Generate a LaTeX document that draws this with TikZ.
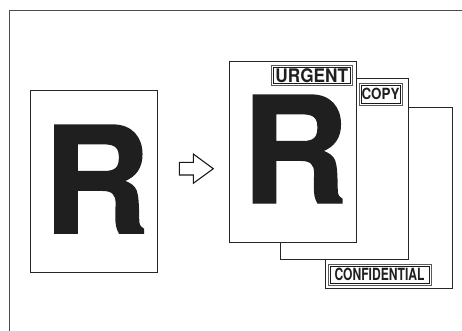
\documentclass[tikz,border=0pt]{standalone}
\usepackage{fontspec}
\newfontfamily\helv{TeX Gyre Heros}
\newfontfamily\helvheavy{TeX Gyre Heros}[FakeBold=1]
\usepackage{tikz}
\usetikzlibrary{positioning, calc}

\begin{document}
\begin{tikzpicture}[
    x=1pt, y=-1pt,
    frameline/.style={draw=black!70, line width=1.1pt},
    page/.style={draw=black!85, fill=white, line width=0.8pt},
    bigletter/.style={inner sep=0pt, anchor=base, text=black!88,
                      font=\helvheavy\bfseries\fontsize{148}{148}\selectfont},
    stampouter/.style={draw=black!65, line width=0.6pt, fill=white},
    stampinner/.style={draw=black!90, line width=0.9pt},
    stamptext/.style={inner sep=0pt, text=black!88, font=\helv\bfseries},
    blockarrow/.style={draw=black!90, line width=1.1pt, line join=miter, fill=white}
]
\useasboundingbox (0,0) rectangle (462,330);
% outer frame (only top and left edges show)
\draw[frameline] (9.5,335) -- (9.5,10.5) -- (470,10.5);

% original
\draw[page] (30,90.5) rectangle (157.5,272.5);
\node[bigletter] (origR) at (96.5,233) {R};

% arrow
\draw[blockarrow] (179.3,162.3) -- (193.3,162.3) -- (193.3,154) -- (213.3,168.7)
    -- (193.3,183.3) -- (193.3,175) -- (179.3,175) -- cycle;

% stamped copies, back to front
\draw[page] (325,107) rectangle (452,288);
\draw[stampouter] (328,264) rectangle (431,285);
\draw[stampinner] (330,266) rectangle (429,283);
\node[stamptext] (confid) at (379.5,274.5)
    {\fontsize{16.8}{17}\selectfont\scalebox{0.72}[1]{CONFIDENTIAL}};

\draw[page] (280.5,78) rectangle (408,259);
\draw[stampouter] (359,83) rectangle (402,105.5);
\draw[stampinner] (361,85) rectangle (400,103.5);
\node[stamptext] (copy) at (380.5,94.25)
    {\fontsize{15.4}{16}\selectfont\scalebox{0.87}[1]{COPY}};

\draw[page] (229,61) rectangle (356.5,242.5);
\node[bigletter] (copyR) at (295,203) {R};
\draw[stampouter] (271.5,65.5) rectangle (352,85.5);
\draw[stampinner] (273.5,67.5) rectangle (350,83.5);
\node[stamptext] (urgent) at (311.75,75.5)
    {\fontsize{18.7}{19}\selectfont\scalebox{0.92}[1]{URGENT}};
\end{tikzpicture}
\end{document}
